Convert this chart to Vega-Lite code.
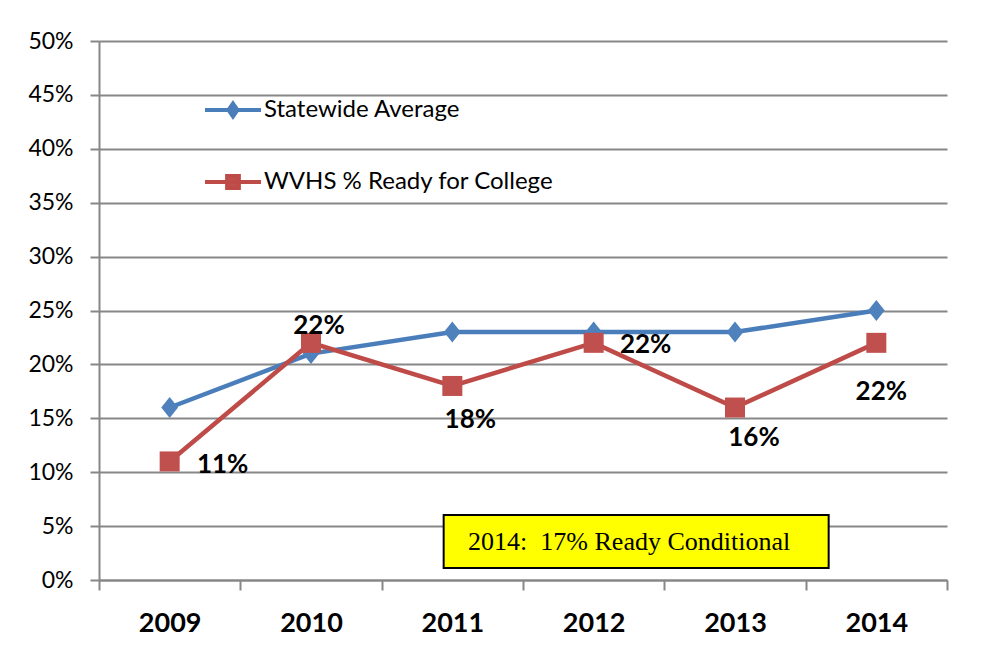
{
  "$schema": "https://vega.github.io/schema/vega-lite/v6.json",
  "width": 848,
  "height": 539,
  "autosize": {"type": "none"},
  "padding": {"left": 99, "top": 41, "right": 40, "bottom": 71},
  "background": "white",
  "config": {
    "view": {"stroke": null},
    "font": "Lato",
    "axis": {"labelFont": "Lato", "labelColor": "#000000"}
  },
  "data": {
    "values": [
      {"year": "2009", "series": "Statewide Average", "value": 0.16},
      {"year": "2010", "series": "Statewide Average", "value": 0.21},
      {"year": "2011", "series": "Statewide Average", "value": 0.23},
      {"year": "2012", "series": "Statewide Average", "value": 0.23},
      {"year": "2013", "series": "Statewide Average", "value": 0.23},
      {"year": "2014", "series": "Statewide Average", "value": 0.25},
      {"year": "2009", "series": "WVHS % Ready for College", "value": 0.11},
      {"year": "2010", "series": "WVHS % Ready for College", "value": 0.22},
      {"year": "2011", "series": "WVHS % Ready for College", "value": 0.18},
      {"year": "2012", "series": "WVHS % Ready for College", "value": 0.22},
      {"year": "2013", "series": "WVHS % Ready for College", "value": 0.16},
      {"year": "2014", "series": "WVHS % Ready for College", "value": 0.22}
    ]
  },
  "encoding": {
    "x": {
      "field": "year", "type": "ordinal",
      "scale": {"type": "band", "paddingInner": 0, "paddingOuter": 0},
      "axis": {
        "title": null, "labelAngle": 0, "labelFontSize": 27, "labelFontWeight": "bold",
        "tickBand": "extent", "tickSize": 10, "tickColor": "#878787", "tickWidth": 2,
        "domainColor": "#878787", "domainWidth": 2, "labelPadding": 20, "grid": false
      }
    },
    "y": {
      "field": "value", "type": "quantitative",
      "scale": {"domain": [0, 0.5], "nice": false, "zero": true},
      "axis": {
        "title": null, "format": ".0%",
        "values": [0, 0.05, 0.1, 0.15, 0.2, 0.25, 0.3, 0.35, 0.4, 0.45, 0.5],
        "labelFontSize": 23, "labelPadding": 17, "tickSize": 9,
        "tickColor": "#878787", "tickWidth": 2, "domainColor": "#878787", "domainWidth": 2,
        "grid": true, "gridColor": "#878787", "gridWidth": 2
      }
    }
  },
  "layer": [
    {
      "transform": [{"filter": "datum.year === '2012' && datum.series === 'Statewide Average'"}],
      "mark": {"type": "rect", "fill": "#FFFF00", "stroke": "#000000", "strokeWidth": 2, "width": 385, "xOffset": 42.5},
      "encoding": {
        "y": {"datum": 0.0603, "type": "quantitative"},
        "y2": {"datum": 0.0111}
      }
    },
    {
      "transform": [{"filter": "datum.year === '2012' && datum.series === 'Statewide Average'"}],
      "mark": {"type": "text", "text": "2014:\u00a0 17%\u00a0Ready Conditional", "font": "Liberation Serif", "fontSize": 26, "color": "#000000", "align": "center", "baseline": "middle", "dx": 35.5},
      "encoding": {
        "y": {"datum": 0.0357, "type": "quantitative"}
      }
    },
    {
      "mark": {"type": "line", "strokeWidth": 4.5},
      "encoding": {
        "color": {
          "field": "series", "type": "nominal",
          "scale": {"domain": ["Statewide Average", "WVHS % Ready for College"], "range": ["#4A7EBB", "#BE4B48"]},
          "legend": {
            "title": null, "orient": "none", "legendX": 104, "legendY": 39, "padding": 0,
            "labelFont": "Lato", "labelFontSize": 24, "labelColor": "#000000", "labelOffset": 1, "labelLimit": 500,
            "symbolSize": 3136, "symbolStrokeWidth": 4, "rowPadding": 27,
            "symbolType": "M-1,0H1",
            "encode": {
              "symbols": {
                "update": {
                  "shape": {"signal": "datum.value === 'Statewide Average' ? 'M-1,0H1M0,-0.23L0.16,0L0,0.23L-0.16,0Z' : 'M-1,0H1M-0.21,-0.21H0.21V0.21H-0.21Z'"},
                  "fill": {"signal": "datum.value === 'Statewide Average' ? '#4F81BD' : '#C0504D'"},
                  "stroke": {"signal": "datum.value === 'Statewide Average' ? '#4A7EBB' : '#BE4B48'"},
                  "strokeWidth": {"value": 4},
                  "opacity": {"value": 1}
                }
              }
            }
          }
        }
      }
    },
    {
      "transform": [{"filter": "datum.series === 'Statewide Average'"}],
      "mark": {"type": "point", "filled": true, "opacity": 1, "size": 441, "shape": "M0,-1L0.8,0L0,1L-0.8,0Z", "color": "#4F81BD"}
    },
    {
      "transform": [{"filter": "datum.series === 'WVHS % Ready for College'"}],
      "mark": {"type": "point", "filled": true, "opacity": 1, "size": 400, "shape": "square", "color": "#C0504D"}
    },
    {
      "transform": [{"filter": "datum.series === 'WVHS % Ready for College' && datum.year === '2009'"}],
      "mark": {"type": "text", "font": "Lato", "fontSize": 26, "fontWeight": "bold", "color": "#000000", "align": "center", "baseline": "middle", "dx": 53, "dy": 4},
      "encoding": {"text": {"field": "value", "type": "quantitative", "format": ".0%"}}
    },
    {
      "transform": [{"filter": "datum.series === 'WVHS % Ready for College' && datum.year === '2010'"}],
      "mark": {"type": "text", "font": "Lato", "fontSize": 26, "fontWeight": "bold", "color": "#000000", "align": "center", "baseline": "middle", "dx": 8, "dy": -17},
      "encoding": {"text": {"field": "value", "type": "quantitative", "format": ".0%"}}
    },
    {
      "transform": [{"filter": "datum.series === 'WVHS % Ready for College' && datum.year === '2011'"}],
      "mark": {"type": "text", "font": "Lato", "fontSize": 26, "fontWeight": "bold", "color": "#000000", "align": "center", "baseline": "middle", "dx": 18, "dy": 34},
      "encoding": {"text": {"field": "value", "type": "quantitative", "format": ".0%"}}
    },
    {
      "transform": [{"filter": "datum.series === 'WVHS % Ready for College' && datum.year === '2012'"}],
      "mark": {"type": "text", "font": "Lato", "fontSize": 26, "fontWeight": "bold", "color": "#000000", "align": "center", "baseline": "middle", "dx": 52, "dy": 2},
      "encoding": {"text": {"field": "value", "type": "quantitative", "format": ".0%"}}
    },
    {
      "transform": [{"filter": "datum.series === 'WVHS % Ready for College' && datum.year === '2013'"}],
      "mark": {"type": "text", "font": "Lato", "fontSize": 26, "fontWeight": "bold", "color": "#000000", "align": "center", "baseline": "middle", "dx": 19, "dy": 30},
      "encoding": {"text": {"field": "value", "type": "quantitative", "format": ".0%"}}
    },
    {
      "transform": [{"filter": "datum.series === 'WVHS % Ready for College' && datum.year === '2014'"}],
      "mark": {"type": "text", "font": "Lato", "fontSize": 26, "fontWeight": "bold", "color": "#000000", "align": "center", "baseline": "middle", "dx": 5, "dy": 49},
      "encoding": {"text": {"field": "value", "type": "quantitative", "format": ".0%"}}
    }
  ]
}
